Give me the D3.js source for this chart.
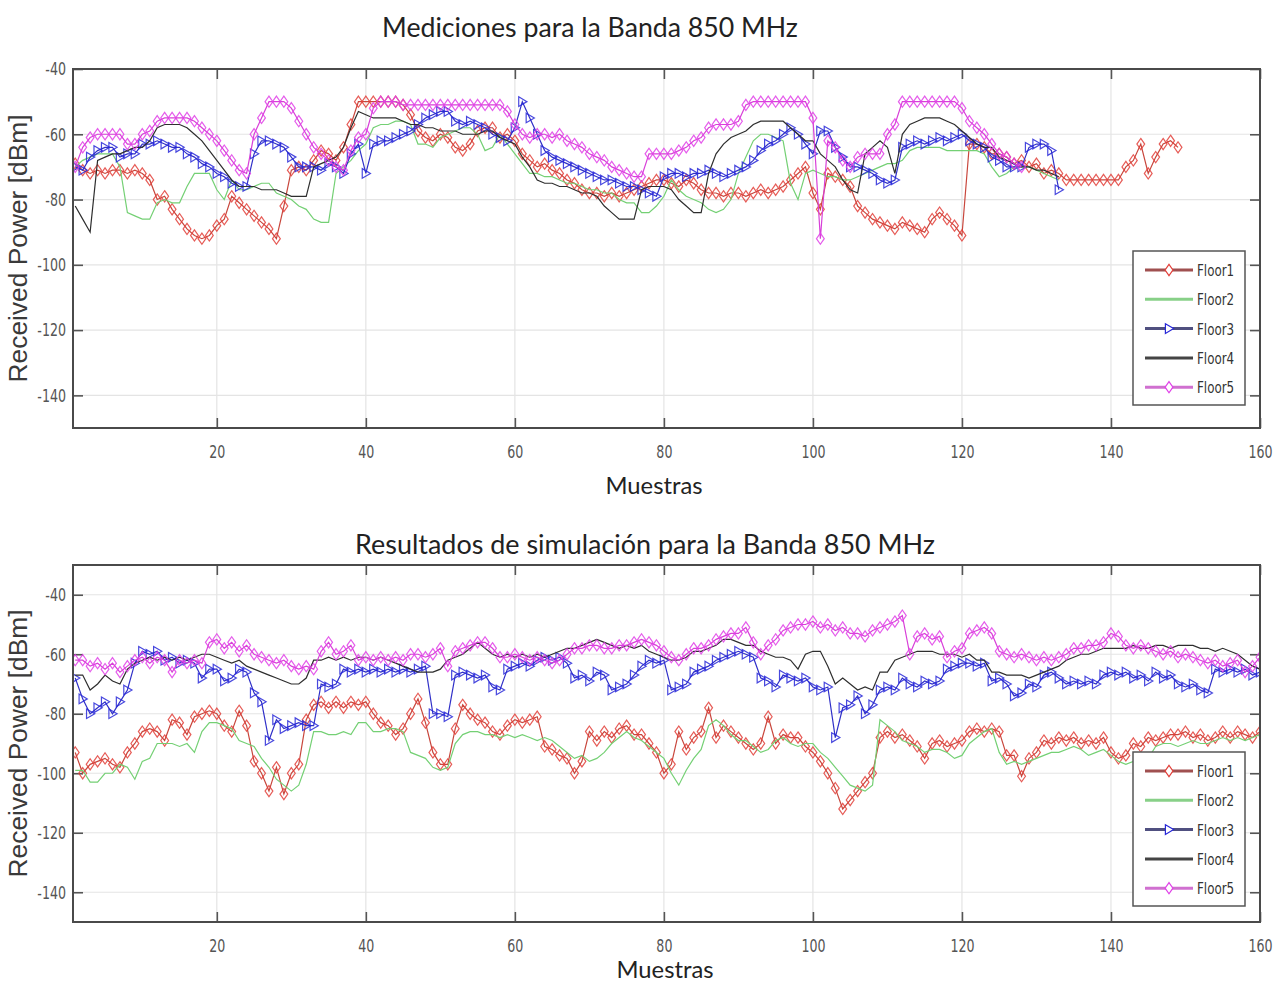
<!DOCTYPE html>
<html><head><meta charset="utf-8">
<script src="https://cdn.jsdelivr.net/npm/d3@7"></script>
<style>
body{margin:0;background:#fff;}
svg{display:block;}
</style></head>
<body>
<svg id="chart" width="1284" height="982"></svg>
<script>
// ---------------- DATA ----------------
const floors = ["Floor1","Floor2","Floor3","Floor4","Floor5"];
const xTicks = [20,40,60,80,100,120,140,160];
const yTicks = [-40,-60,-80,-100,-120,-140];

// Mediciones (measurements)
const meas1 = [-69,-71,-72,-71,-72,-71,-71,-72,-71,-72,
 -74,-80,-79,-83,-86,-89,-91,-92,-91,-88,
 -86,-79,-81,-83,-85,-87,-89,-92,-82,-71,
 -70,-71,-68,-65,-66,-68,-64,-57,-50,-50,
 -50,-50,-50,-50,-51,-54,-59,-61,-62,-60,
 -61,-64,-65,-63,-59,-58,-58,-61,-60,-62,
 -66,-68,-70,-69,-71,-72,-74,-75,-77,-78,
 -78,-79,-78,-79,-78,-77,-76,-75,-74,-74,
 -75,-76,-74,-75,-77,-78,-78,-79,-78,-78,
 -79,-78,-77,-78,-77,-76,-74,-72,-70,-78,
 -83,-72,-73,-74,-76,-82,-84,-86,-87,-88,
 -89,-87,-88,-89,-90,-86,-84,-86,-88,-91,
 -63,-63,-64,-66,-66,-67,-69,-68,-70,-69,
 -72,-71,-72,-74,-74,-74,-74,-74,-74,-74,
 -74,-70,-68,-63,-72,-67,-63,-62,-64];
const meas2 = [-70,-68,-67,-66,-66,-66,-70,-84,-85,-86,
 -86,-81,-80,-81,-81,-76,-72,-72,-72,-77,
 -80,-74,-77,-77,-76,-75,-75,-78,-79,-80,
 -82,-83,-86,-87,-87,-72,-70,-68,-65,-63,
 -58,-57,-57,-56,-56,-57,-63,-63,-64,-61,
 -60,-59,-58,-58,-60,-65,-64,-60,-63,-66,
 -69,-72,-72,-73,-73,-74,-75,-75,-76,-77,
 -77,-78,-78,-80,-81,-81,-84,-84,-82,-79,
 -74,-77,-79,-80,-81,-83,-84,-83,-80,-72,
 -67,-62,-60,-60,-61,-62,-75,-80,-72,-71,
 -72,-73,-73,-74,-74,-73,-72,-71,-70,-69,
 -69,-68,-65,-64,-64,-64,-64,-65,-65,-65,
 -65,-65,-66,-70,-73,-72,-70,-70,-70,-71,
 -72,-73,-74];
const meas3 = [-70,-71,-67,-65,-64,-64,-67,-66,-66,-63,
 -63,-62,-63,-64,-64,-66,-67,-69,-70,-72,
 -73,-75,-76,-76,-66,-62,-62,-63,-64,-67,
 -70,-70,-70,-71,-69,-70,-72,-66,-63,-72,
 -63,-62,-62,-61,-60,-59,-57,-55,-54,-53,
 -53,-56,-57,-56,-57,-58,-60,-61,-62,-58,
 -50,-55,-60,-65,-67,-68,-69,-70,-71,-72,
 -73,-74,-74,-75,-76,-76,-77,-78,-79,-73,
 -72,-72,-73,-72,-72,-71,-72,-73,-72,-71,
 -70,-68,-65,-63,-62,-60,-58,-60,-63,-66,
 -59,-59,-64,-67,-70,-70,-71,-72,-74,-75,
 -74,-64,-63,-62,-63,-62,-61,-62,-61,-60,
 -62,-63,-64,-67,-68,-70,-70,-70,-64,-63,
 -63,-65,-77];
const meas4 = [-82,-86,-90,-68,-67,-66,-66,-65,-64,-64,
 -62,-58,-57,-57,-57,-58,-60,-62,-65,-68,
 -71,-74,-76,-76,-76,-77,-77,-77,-78,-79,
 -79,-79,-70,-69,-68,-67,-64,-58,-53,-54,
 -55,-55,-55,-55,-56,-57,-57,-58,-58,-59,
 -59,-59,-60,-60,-60,-59,-59,-61,-62,-63,
 -67,-70,-74,-75,-75,-76,-76,-77,-78,-78,
 -79,-82,-84,-86,-86,-86,-77,-76,-76,-76,
 -77,-80,-82,-84,-84,-72,-66,-63,-61,-60,
 -59,-57,-56,-56,-56,-56,-58,-60,-62,-62,
 -66,-68,-70,-74,-77,-78,-66,-64,-62,-64,
 -72,-60,-57,-56,-55,-55,-55,-56,-57,-59,
 -61,-63,-64,-64,-67,-68,-69,-70,-70,-71,
 -71,-72,-73];
const meas5 = [-70,-64,-61,-60,-60,-60,-60,-63,-63,-60,
 -59,-56,-55,-55,-55,-55,-56,-58,-60,-62,
 -65,-68,-71,-72,-60,-55,-50,-50,-50,-52,
 -56,-60,-64,-66,-68,-70,-71,-65,-61,-60,
 -52,-50,-50,-50,-51,-51,-51,-51,-51,-51,
 -51,-51,-51,-51,-51,-51,-51,-51,-53,-57,
 -60,-61,-60,-60,-61,-60,-62,-63,-64,-66,
 -67,-68,-70,-71,-72,-73,-73,-66,-66,-66,
 -66,-65,-64,-62,-61,-58,-57,-57,-57,-56,
 -51,-50,-50,-50,-50,-50,-50,-50,-50,-55,
 -92,-62,-64,-68,-70,-67,-66,-66,-66,-60,
 -57,-50,-50,-50,-50,-50,-50,-50,-50,-52,
 -56,-58,-60,-63,-66,-67,-69,-70];

// Resultados de simulación (simulation)
const sim1 = [-93,-100,-97,-96,-95,-97,-98,-93,-90,-86,
 -85,-86,-89,-82,-83,-87,-81,-80,-79,-80,
 -84,-86,-79,-84,-96,-100,-106,-98,-107,-100,
 -97,-82,-77,-76,-78,-76,-78,-76,-77,-76,
 -80,-83,-84,-87,-85,-80,-75,-83,-93,-97,
 -97,-85,-77,-80,-82,-83,-86,-87,-84,-82,
 -83,-82,-81,-91,-92,-94,-95,-100,-96,-86,
 -89,-86,-88,-85,-84,-87,-87,-90,-93,-100,
 -97,-86,-92,-88,-86,-78,-88,-84,-86,-88,
 -90,-92,-90,-81,-90,-87,-88,-88,-91,-93,
 -96,-100,-105,-112,-109,-106,-103,-100,-88,-86,
 -88,-87,-89,-91,-95,-90,-89,-91,-90,-89,
 -86,-85,-86,-85,-86,-94,-94,-101,-95,-93,
 -89,-90,-88,-89,-88,-90,-89,-90,-88,-93,
 -95,-94,-90,-91,-88,-89,-88,-87,-87,-86,
 -88,-87,-89,-88,-86,-88,-86,-87,-88,-86];
const sim2 = [-99,-99,-103,-103,-100,-100,-97,-98,-102,-96,
 -95,-90,-90,-90,-91,-90,-93,-86,-83,-83,
 -84,-85,-89,-90,-91,-95,-98,-102,-104,-106,
 -104,-97,-86,-86,-87,-87,-86,-87,-83,-83,
 -86,-86,-85,-85,-86,-93,-94,-95,-98,-99,
 -98,-90,-87,-86,-86,-87,-87,-88,-87,-88,
 -87,-88,-89,-88,-89,-91,-93,-95,-94,-96,
 -95,-93,-90,-88,-86,-88,-89,-91,-93,-95,
 -100,-104,-99,-95,-92,-84,-82,-84,-87,-89,
 -89,-91,-93,-92,-89,-88,-90,-91,-90,-90,
 -93,-95,-98,-101,-104,-105,-106,-104,-82,-84,
 -86,-89,-90,-91,-93,-92,-92,-93,-95,-94,
 -90,-88,-86,-85,-93,-97,-96,-97,-96,-95,
 -94,-93,-93,-92,-91,-92,-94,-93,-92,-94,
 -96,-97,-96,-97,-95,-91,-90,-90,-91,-90,
 -89,-90,-90,-89,-88,-89,-88,-89,-88,-87];
const sim3 = [-68,-75,-80,-78,-76,-80,-76,-72,-63,-59,
 -60,-59,-62,-61,-63,-62,-63,-68,-65,-65,
 -69,-68,-65,-66,-73,-76,-89,-82,-85,-84,
 -83,-84,-84,-70,-71,-70,-65,-66,-65,-66,
 -65,-66,-65,-66,-65,-66,-65,-64,-80,-80,
 -81,-67,-66,-67,-68,-67,-71,-72,-65,-64,
 -63,-64,-62,-61,-62,-61,-63,-68,-67,-69,
 -66,-67,-72,-71,-70,-67,-64,-62,-63,-62,
 -72,-71,-70,-66,-65,-64,-62,-61,-60,-59,
 -60,-61,-68,-69,-71,-67,-68,-69,-68,-71,
 -72,-71,-88,-78,-77,-74,-80,-77,-72,-71,
 -72,-68,-70,-71,-69,-70,-69,-65,-64,-63,
 -63,-64,-63,-69,-68,-70,-74,-73,-70,-71,
 -67,-66,-68,-70,-69,-70,-69,-70,-67,-66,
 -67,-66,-68,-67,-69,-66,-68,-67,-70,-71,
 -70,-72,-73,-65,-66,-65,-66,-65,-67,-66];
const sim4 = [-67,-67,-72,-70,-67,-69,-70,-65,-63,-62,
 -61,-62,-61,-62,-61,-62,-61,-60,-60,-61,
 -62,-63,-62,-64,-65,-66,-67,-68,-69,-70,
 -70,-68,-62,-62,-61,-62,-61,-62,-61,-61,
 -62,-61,-62,-63,-64,-65,-66,-66,-66,-65,
 -62,-61,-60,-58,-56,-58,-60,-61,-60,-61,
 -60,-61,-60,-61,-60,-59,-58,-58,-57,-56,
 -55,-56,-57,-58,-57,-58,-57,-59,-60,-61,
 -62,-62,-61,-59,-59,-58,-57,-55,-55,-56,
 -57,-57,-59,-60,-61,-61,-62,-65,-60,-59,
 -59,-64,-70,-68,-70,-72,-71,-72,-66,-66,
 -62,-61,-60,-59,-59,-59,-60,-60,-60,-61,
 -60,-62,-62,-66,-66,-67,-67,-67,-68,-67,
 -66,-65,-64,-62,-61,-60,-60,-59,-58,-58,
 -58,-58,-57,-58,-58,-57,-57,-58,-57,-57,
 -57,-58,-58,-59,-58,-59,-60,-62,-64,-65];
const sim5 = [-62,-62,-64,-63,-65,-63,-66,-64,-62,-61,
 -63,-61,-62,-66,-62,-63,-62,-63,-56,-55,
 -58,-56,-59,-57,-60,-61,-62,-63,-62,-64,
 -65,-64,-65,-59,-56,-60,-59,-57,-62,-61,
 -62,-61,-62,-61,-62,-60,-60,-61,-60,-58,
 -64,-59,-58,-57,-56,-56,-58,-61,-61,-60,
 -61,-62,-61,-62,-63,-62,-60,-58,-58,-57,
 -57,-58,-58,-57,-57,-56,-55,-56,-57,-59,
 -61,-62,-60,-58,-58,-57,-55,-54,-53,-53,
 -51,-56,-60,-57,-55,-52,-51,-50,-50,-49,
 -51,-50,-52,-51,-53,-53,-54,-52,-51,-50,
 -49,-47,-60,-54,-53,-55,-54,-61,-59,-58,
 -53,-52,-51,-53,-59,-60,-61,-60,-61,-62,
 -61,-62,-61,-60,-58,-58,-57,-57,-56,-53,
 -54,-57,-58,-57,-58,-59,-60,-59,-61,-60,
 -61,-62,-63,-62,-64,-63,-62,-66,-64,-61];

// ---------------- STYLE ----------------
const styles = [
  {line:"#c8463c", mk:"#e2403a", marker:"diamond"},
  {line:"#74d074", mk:null, marker:null},
  {line:"#3030c8", mk:"#2828d8", marker:"tri"},
  {line:"#2e2e2e", mk:null, marker:null},
  {line:"#d840d8", mk:"#e040e8", marker:"diamond"}
];
const legendLine = ["#a05050","#88d088","#505080","#444444","#d070d0"];

const svg = d3.select("#chart");
const tickFont = "'DejaVu Sans Condensed','Liberation Sans Narrow',Arial,sans-serif";
const titleFont = "Lato,'Open Sans',sans-serif";

function markerPath(type){
  if(type==="diamond") return "M0,-5.6L3.9,0L0,5.6L-3.9,0Z";
  return "M-3.6,-4.8L4.6,0L-3.6,4.8Z";
}

function fitText(sel, w){
  const n = sel.node();
  const cur = n.getComputedTextLength();
  const fs = parseFloat(sel.attr("font-size"));
  sel.attr("font-size", (fs*w/cur).toFixed(2));
}

function panel(cfg){
  const {left,right,top,bottom,yDomain,series,title,titleX,titleY,titleW,xlabY,xlabX,legTop} = cfg;
  const x = d3.scaleLinear().domain([0.7,160]).range([left,right]);
  const y = d3.scaleLinear().domain(yDomain).range([bottom,top]);
  const g = svg.append("g");

  // grid
  g.append("g").selectAll("line").data(xTicks.slice(0,-1)).join("line")
    .attr("x1",d=>x(d)).attr("x2",d=>x(d)).attr("y1",top).attr("y2",bottom)
    .attr("stroke","#e4e4e4").attr("stroke-width",1.2);
  g.append("g").selectAll("line").data(yTicks).join("line")
    .attr("y1",d=>y(d)).attr("y2",d=>y(d)).attr("x1",left).attr("x2",right)
    .attr("stroke","#e4e4e4").attr("stroke-width",1.2);

  // axes (bottom & left with labels), ticks inside
  const xa = d3.axisBottom(x).tickValues(xTicks).tickSize(-10).tickPadding(17).tickFormat(d3.format("d"));
  const ya = d3.axisLeft(y).tickValues(yTicks).tickSize(-10).tickPadding(9).tickFormat(d=>"-"+Math.abs(d));
  const gx = g.append("g").attr("transform",`translate(0,${bottom})`).call(xa);
  const gy = g.append("g").attr("transform",`translate(${left},0)`).call(ya);
  const gx2 = g.append("g").attr("transform",`translate(0,${top})`).call(d3.axisTop(x).tickValues(xTicks).tickSize(-10).tickFormat(""));
  const gy2 = g.append("g").attr("transform",`translate(${right},0)`).call(d3.axisRight(y).tickValues(yTicks).tickSize(-10).tickFormat(""));
  [gx,gy,gx2,gy2].forEach(a=>{
    a.select(".domain").remove();
    a.selectAll(".tick line").attr("stroke","#555").attr("stroke-width",1.6);
    a.selectAll(".tick text").attr("fill","#555").attr("font-family",tickFont).attr("font-size",18)
      .attr("transform","scale(0.78,1)");
  });

  // series
  const clipId = "clip"+top;
  svg.append("clipPath").attr("id",clipId).append("rect")
    .attr("x",left).attr("y",top).attr("width",right-left).attr("height",bottom-top);
  const plot = g.append("g").attr("clip-path",`url(#${clipId})`);
  series.forEach((vals,i)=>{
    const st = styles[i];
    const pts = vals.map((v,k)=>[k+1,v]);
    plot.append("path").datum(pts)
      .attr("fill","none").attr("stroke",st.line).attr("stroke-width",1.2)
      .attr("d",d3.line().x(d=>x(d[0])).y(d=>y(d[1])));
    if(st.marker){
      plot.append("g").selectAll("path").data(pts).join("path")
        .attr("transform",d=>`translate(${x(d[0])},${y(d[1])})`)
        .attr("d",markerPath(st.marker))
        .attr("fill","none").attr("stroke",st.mk).attr("stroke-width",1.2).attr("stroke-opacity",0.85);
    }
  });

  // box
  g.append("rect").attr("x",left).attr("y",top).attr("width",right-left).attr("height",bottom-top)
    .attr("fill","none").attr("stroke","#4a4a4a").attr("stroke-width",2);

  // legend
  const lx = 1133, lw = 112, lh = 154;
  const lg = g.append("g");
  lg.append("rect").attr("x",lx).attr("y",legTop).attr("width",lw).attr("height",lh)
    .attr("fill","#fff").attr("stroke","#555").attr("stroke-width",1.5);
  floors.forEach((f,i)=>{
    const yy = legTop + 19 + i*29.3;
    lg.append("line").attr("x1",lx+12).attr("x2",lx+60).attr("y1",yy).attr("y2",yy)
      .attr("stroke",legendLine[i]).attr("stroke-width",3);
    if(styles[i].marker){
      lg.append("path").attr("transform",`translate(${lx+36},${yy})`)
        .attr("d",markerPath(styles[i].marker)).attr("fill","#fff")
        .attr("stroke",styles[i].mk).attr("stroke-width",1.2);
    }
    lg.append("text").attr("transform",`translate(${lx+64},${yy+6}) scale(0.8,1)`).text(f)
      .attr("font-family",tickFont).attr("font-size",16.5).attr("fill","#333");
  });

  // titles
  const t = svg.append("text").attr("x",titleX).attr("y",titleY).attr("text-anchor","middle")
    .attr("font-family",titleFont).attr("font-size",22).attr("fill","#222").text(title);
  fitText(t,titleW);
  const xl = svg.append("text").attr("x",xlabX).attr("y",xlabY).attr("text-anchor","middle")
    .attr("font-family",titleFont).attr("font-size",20).attr("fill","#222").text("Muestras");
  fitText(xl,97);
  const yl = svg.append("text").attr("transform",`translate(27,${(top+bottom)/2}) rotate(-90)`)
    .attr("text-anchor","middle").attr("font-family","'Liberation Sans',Arial,sans-serif")
    .attr("font-size",18).attr("fill","#3a3a3a").text("Received Power [dBm]");
  fitText(yl,268);
}

panel({left:73,right:1260,top:69,bottom:428,yDomain:[-150,-40],
  series:[meas1,meas2,meas3,meas4,meas5],
  title:"Mediciones para la Banda 850 MHz",titleX:590,titleY:37,titleW:416,
  xlabX:654,xlabY:494,legTop:251});
panel({left:73,right:1260,top:565,bottom:922,yDomain:[-150,-30],
  series:[sim1,sim2,sim3,sim4,sim5],
  title:"Resultados de simulación para la Banda 850 MHz",titleX:645,titleY:554,titleW:580,
  xlabX:665,xlabY:978,legTop:752});
</script>
</body></html>
